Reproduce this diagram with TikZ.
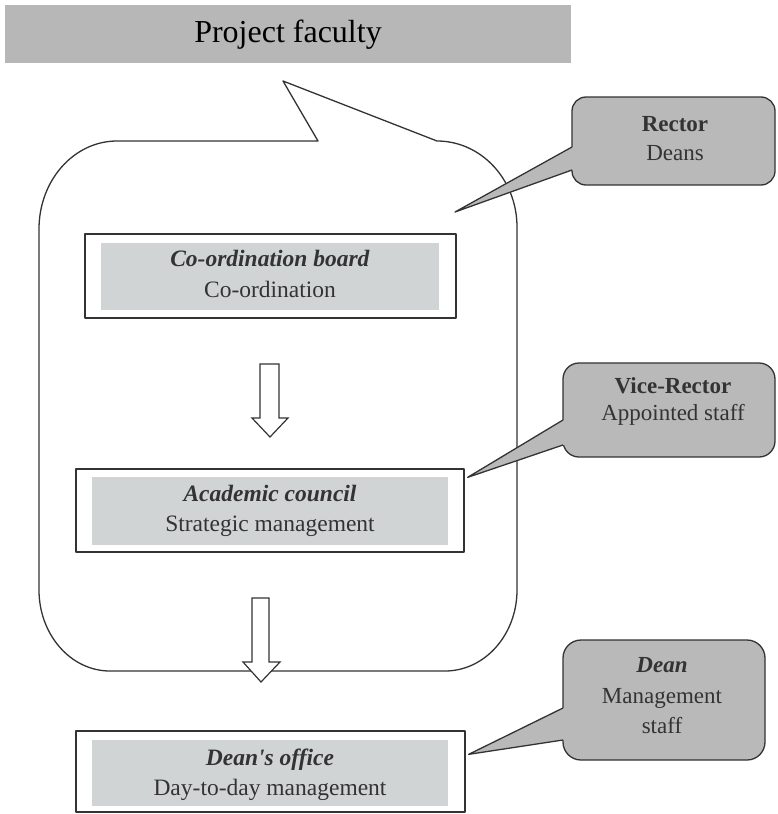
\documentclass[tikz,border=0pt]{standalone}
\usepackage{fontspec}
\setmainfont{Liberation Serif}
% same face without the TeX quote mapping, for a straight apostrophe
\newfontfamily\plainserif{Liberation Serif}
\usetikzlibrary{calc}

\definecolor{bannergray}{HTML}{B7B7B7}
\definecolor{panelgray}{HTML}{D1D4D5}
\definecolor{calloutgray}{HTML}{B9B9B9}
\definecolor{ink}{HTML}{333333}

\begin{document}
\begin{tikzpicture}[x=1pt,y=-1pt,
  outline/.style={draw=ink, line width=1.3pt, line join=round},
  unitbox/.style={outline, fill=white, rectangle, inner sep=0pt},
  panel/.style={fill=panelgray, rectangle, inner sep=0pt},
  boxtext/.style={anchor=base, text=ink, inner sep=0pt,
                  font=\fontsize{23.5}{28}\selectfont},
  calloutbody/.style={outline, fill=calloutgray, rectangle, inner sep=0pt},
  ctext/.style={anchor=base, text=ink, inner sep=0pt,
                font=\fontsize{23}{28}\selectfont},
  hollow/.style={draw=ink, line width=1.2pt, fill=white, line join=miter}
]
\useasboundingbox (0,0) rectangle (777,814);

% title banner
\node[fill=bannergray, minimum width=566pt, minimum height=58pt, inner sep=0pt]
  (banner) at (288,34) {};
\node[anchor=base, inner sep=0pt, font=\fontsize{32}{38}\selectfont]
  (title) at (288,42) {Project faculty};

% large speech bubble around the two upper units
\draw[outline]
  (39,229) .. controls (39,180.4) and (73.9,141) .. (117,141)
  -- (318,141) -- (283,81) -- (437,141)
  .. controls (481.2,141) and (517,179.5) .. (517,227)
  -- (517,590) .. controls (517,634.7) and (484.8,671) .. (445,671)
  -- (110,671) .. controls (70.8,671) and (39,634.7) .. (39,590)
  -- cycle;

% Co-ordination board
\node[unitbox, minimum width=371pt, minimum height=84pt] (cob) at (270.5,276) {};
\node[panel, minimum width=338pt, minimum height=67pt] (cobin) at (270,276.5) {};
\node[boxtext] (cobt1) at (270,266) {\textbf{\textit{Co-ordination board}}};
\node[boxtext] (cobt2) at (270,297) {Co-ordination};

% Academic council
\node[unitbox, minimum width=388pt, minimum height=83pt] (acad) at (270,510.5) {};
\node[panel, minimum width=356pt, minimum height=68pt] (acadin) at (270,511) {};
\node[boxtext] (acadt1) at (270,501) {\textbf{\textit{Academic council}}};
\node[boxtext] (acadt2) at (270,531) {Strategic management};

% Dean's office
\node[unitbox, minimum width=389pt, minimum height=81pt] (dean) at (270.5,771.5) {};
\node[panel, minimum width=356pt, minimum height=66pt] (deanin) at (270,773) {};
\node[boxtext] (deant1) at (270,765) {\plainserif\textbf{\textit{Dean's office}}};
\node[boxtext] (deant2) at (270,795) {Day-to-day management};

% hollow block arrows between the units
\draw[hollow] (260,364) -- (279,364) -- (279,418) -- (288,418) -- (270,437)
  -- (252,418) -- (260,418) -- cycle;
\draw[hollow] (252,598) -- (269,598) -- (269,662) -- (280,662) -- (261,682)
  -- (243,662) -- (252,662) -- cycle;

% callout: Rector
\node[calloutbody, rounded corners=14pt, minimum width=203pt, minimum height=88pt]
  (rector) at (673.5,141) {};
\coordinate (rtip) at (455,212);
\fill[calloutgray] (572,147) -- (rtip) -- (572,170) -- (577,170) -- (577,147) -- cycle;
\draw[outline] (572,147) -- (rtip) -- (572,170);
\node[ctext] (rt1) at (675,131) {\textbf{Rector}};
\node[ctext] (rt2) at (675,160) {Deans};

% callout: Vice-Rector
\node[calloutbody, rounded corners=16pt, minimum width=212pt, minimum height=94pt]
  (vrector) at (669,410) {};
\coordinate (vtip) at ($(acad.north east)+(3,9)$);
\fill[calloutgray] (563,420) -- (vtip) -- (563,445) -- (568,445) -- (568,420) -- cycle;
\draw[outline] (563,420) -- (vtip) -- (563,445);
\node[ctext] (vt1) at (673,393) {\textbf{Vice-Rector}};
\node[ctext] (vt2) at (673,420) {Appointed staff};

% callout: Dean
\node[calloutbody, rounded corners=18pt, minimum width=202pt, minimum height=120pt]
  (deanc) at (664,700) {};
\coordinate (dtip) at ($(dean.north east)+(3,24)$);
\fill[calloutgray] (563,708) -- (dtip) -- (563,740) -- (568,740) -- (568,708) -- cycle;
\draw[outline] (563,708) -- (dtip) -- (563,740);
\node[ctext] (dt1) at (662,672) {\textbf{\textit{Dean}}};
\node[ctext] (dt2) at (662,703) {Management};
\node[ctext] (dt3) at (662,733) {staff};
\end{tikzpicture}
\end{document}
